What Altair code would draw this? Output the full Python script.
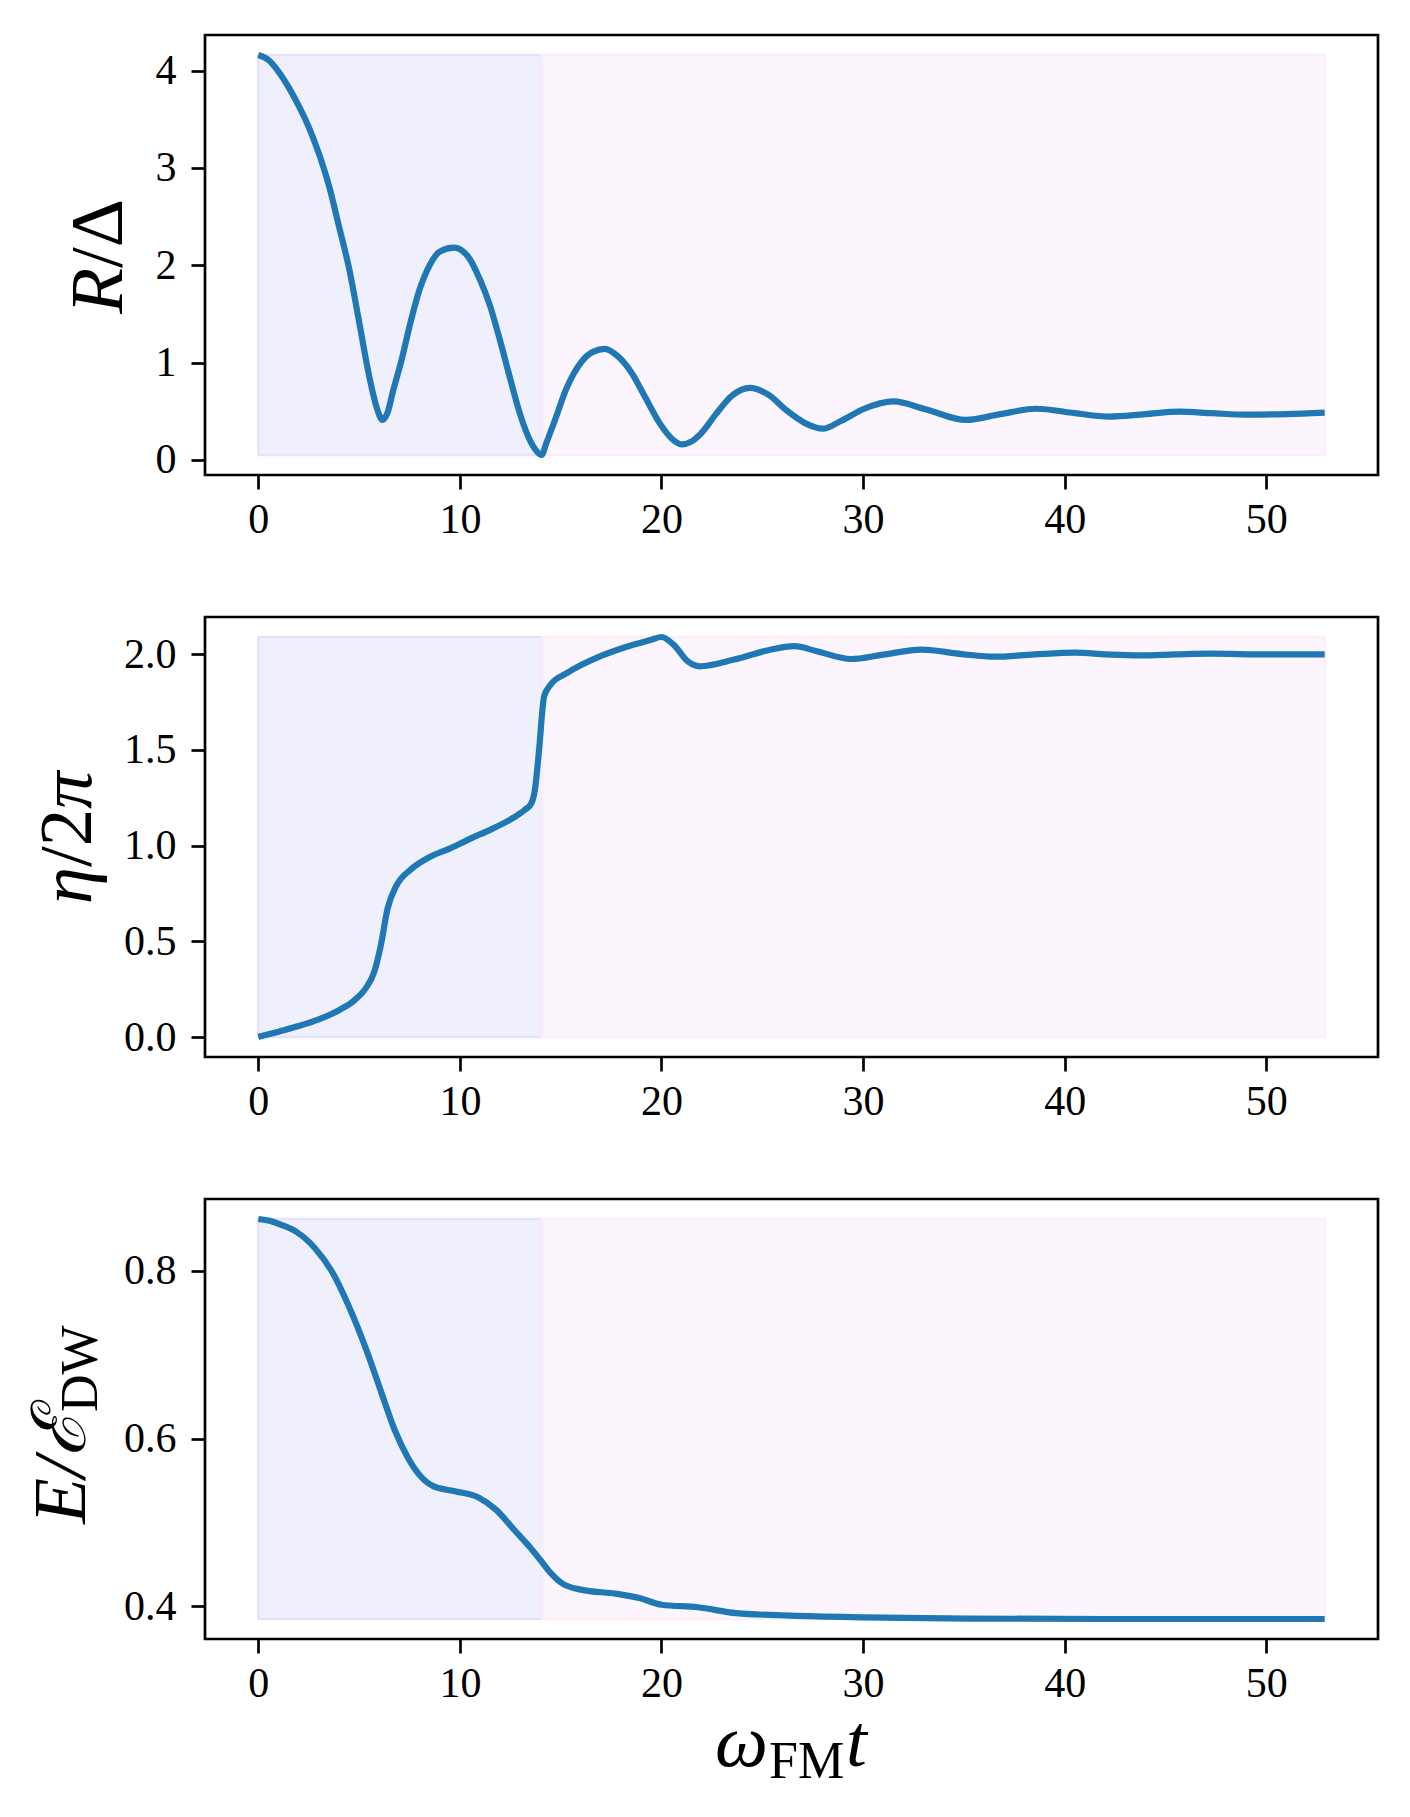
import altair as alt
import pandas as pd

# ---------------- data ----------------
t_R = [0, 0.5, 1.0, 1.5, 2.0, 2.5, 3.0, 3.5, 4.0, 4.5, 5.0, 5.5, 5.9, 6.15, 6.4, 6.7,
       7.1, 7.5, 8.0, 8.5, 9.0, 9.7, 10.4, 11.0, 11.5, 12.0, 12.5, 13.0, 13.5, 13.85,
       14.05, 14.3, 14.7, 15.3, 16.0, 16.6, 17.2, 17.8, 18.5, 19.2, 19.9, 20.5, 21.0,
       21.5, 22.0, 22.7, 23.5, 24.4, 25.3, 26.2, 27.2, 28.0, 28.9, 30.0, 31.5, 33.1,
       35.1, 36.8, 38.6, 40.5, 42.2, 44.0, 45.7, 47.3, 49.0, 51.0, 52.9]
R = [4.16, 4.11, 3.99, 3.83, 3.64, 3.42, 3.15, 2.82, 2.40, 1.97, 1.42, 0.86, 0.52, 0.41,
     0.48, 0.72, 1.02, 1.37, 1.75, 2.00, 2.14, 2.18, 2.09, 1.85, 1.58, 1.22, 0.83, 0.46,
     0.19, 0.08, 0.05, 0.18, 0.40, 0.74, 1.00, 1.11, 1.14, 1.07, 0.90, 0.64, 0.38, 0.22,
     0.16, 0.19, 0.28, 0.47, 0.66, 0.74, 0.67, 0.51, 0.37, 0.32, 0.40, 0.52, 0.60, 0.52,
     0.41, 0.47, 0.525, 0.48, 0.445, 0.47, 0.495, 0.48, 0.465, 0.47, 0.485]

t_eta = [0, 1, 2, 3, 4, 4.75, 5.3, 5.75, 6.08, 6.41, 6.85, 7.6, 8.5, 9.4, 10.5, 11.6,
         12.7, 13.2, 13.52, 13.72, 13.92, 14.18, 14.5, 15.3, 17.0, 18.6, 19.5, 20.0,
         20.6, 21.3, 21.9, 23.6, 25.3, 26.6, 27.7, 29.4, 31.0, 32.9, 34.9, 36.5, 38.5,
         40.5, 42.1, 43.7, 45.5, 47.2, 50.0, 52.9]
eta = [0.0, 0.028, 0.057, 0.092, 0.14, 0.19, 0.25, 0.34, 0.48, 0.67, 0.79, 0.878, 0.94,
       0.98, 1.035, 1.087, 1.148, 1.185, 1.215, 1.29, 1.49, 1.78, 1.84, 1.90, 1.99, 2.049,
       2.075, 2.089, 2.049, 1.962, 1.936, 1.971, 2.02, 2.041, 2.015, 1.974, 1.997, 2.023,
       2.0, 1.986, 1.998, 2.007, 1.998, 1.993, 1.998, 2.002, 1.998, 1.998]

t_E = [0, 0.6, 1.2, 1.9, 2.8, 3.65, 4.5, 5.4, 6.1, 6.75, 7.4, 8.05, 8.7, 9.8, 10.9, 11.8,
       12.7, 13.6, 14.0, 14.5, 15.1, 16.0, 17.8, 18.9, 20.0, 21.8, 23.7, 26.4, 30.0, 35.4,
       42.0, 52.9]
E = [0.8615, 0.859, 0.854, 0.846, 0.827, 0.799, 0.757, 0.703, 0.655, 0.611, 0.578, 0.555,
     0.543, 0.537, 0.530, 0.515, 0.491, 0.467, 0.455, 0.440, 0.427, 0.420, 0.415, 0.410,
     0.402, 0.399, 0.392, 0.389, 0.387, 0.3855, 0.385, 0.385]

t_switch = 14.1
t_end = 52.9
x_ticks = [0, 10, 20, 30, 40, 50]
R_ticks = [0, 1, 2, 3, 4]
eta_ticks = [0.0, 0.5, 1.0, 1.5, 2.0]
E_ticks = [0.4, 0.6, 0.8]

# ---------------- styling ----------------
W, H = 1173, 440
FONT = "Liberation Serif"
LINE = "#1f77b4"
TSIZE = 75
SUB = 52


def pad_domain(lo, hi, m=0.05):
    s = hi - lo
    return [lo - m * s, hi + m * s]


x_dom = pad_domain(0, t_end)


def txt(s, x, y, size=TSIZE, italic=False, align="left", angle=270):
    kw = dict(font=FONT, fontSize=size, align=align, baseline="alphabetic",
              color="black", angle=angle)
    if italic:
        kw["fontStyle"] = "italic"
    return alt.Chart(pd.DataFrame({"s": [s]})).mark_text(**kw).encode(
        text="s:N", x=alt.value(x), y=alt.value(y))


def panel(ts, vs, yticks, yfmt, title_layers):
    lo, hi = min(vs), max(vs)
    df = pd.DataFrame({"t": ts, "v": vs})
    regions = pd.DataFrame({
        "t0": [0, t_switch], "t1": [t_switch, t_end],
        "lo": [lo, lo], "hi": [hi, hi],
        "fill": ["#f0f0fc", "#fdf5fd"], "stroke": ["#e3e3fb", "#fbeefb"],
    })
    xs = alt.Scale(domain=x_dom, nice=False, zero=False)
    ys = alt.Scale(domain=pad_domain(lo, hi), nice=False, zero=False)
    xaxis = alt.Axis(values=x_ticks, title=None, format="d", labelPadding=10,
                     grid=False, domain=False)
    yaxis = alt.Axis(values=yticks, title=None, format=yfmt, labelPadding=15,
                     grid=False, domain=False)
    rects = alt.Chart(regions).mark_rect(strokeWidth=2.5).encode(
        x=alt.X("t0:Q", scale=xs, axis=xaxis), x2="t1:Q",
        y=alt.Y("lo:Q", scale=ys, axis=yaxis), y2="hi:Q",
        fill=alt.Fill("fill:N", scale=None),
        stroke=alt.Stroke("stroke:N", scale=None),
    )
    line = alt.Chart(df).mark_line(color=LINE, strokeWidth=6.2,
                                   interpolate="monotone").encode(
        x=alt.X("t:Q", scale=xs, axis=xaxis),
        y=alt.Y("v:Q", scale=ys, axis=yaxis),
    )
    return alt.layer(rects, line, *title_layers).properties(width=W, height=H)


# y titles (pieces so that italics / subscripts look like the math labels)
p1_titles = [
    txt("R", -83, 233, italic=True, align="right"),
    txt("/Δ", -83, 233, align="left"),
]
p2_titles = [
    txt("η", -114, 250, italic=True, align="right"),
    txt("/2", -114, 250, align="left"),
    txt("π", -114, 192, italic=True, align="left"),
]
p3_titles = [
    txt("E/ℰ", -120, 213, italic=True, align="right"),
    txt("DW", -108, 213, size=SUB, align="left"),
    # x-axis title  ω_FM t
    txt("ω", 563, 567, italic=True, align="right", angle=0),
    txt("FM", 564, 579, size=SUB, align="left", angle=0),
    txt("t", 641, 567, italic=True, align="left", angle=0),
]

p1 = panel(t_R, R, R_ticks, "d", p1_titles)
p2 = panel(t_eta, eta, eta_ticks, ".1f", p2_titles)
p3 = panel(t_E, E, E_ticks, ".1f", p3_titles)

chart = alt.vconcat(p1, p2, p3, spacing=142, bounds="flush").properties(
    padding={"left": 15, "top": 25, "right": 5, "bottom": 5},
    background="white",
).configure_view(
    stroke="black", strokeWidth=2.7
).configure_axis(
    labelFont=FONT, labelFontSize=42, labelColor="black",
    tickColor="black", tickWidth=2.7, tickSize=14,
    domain=False, grid=False,
)

chart.save("out.html", embed_options={"renderer": "svg", "actions": False})
